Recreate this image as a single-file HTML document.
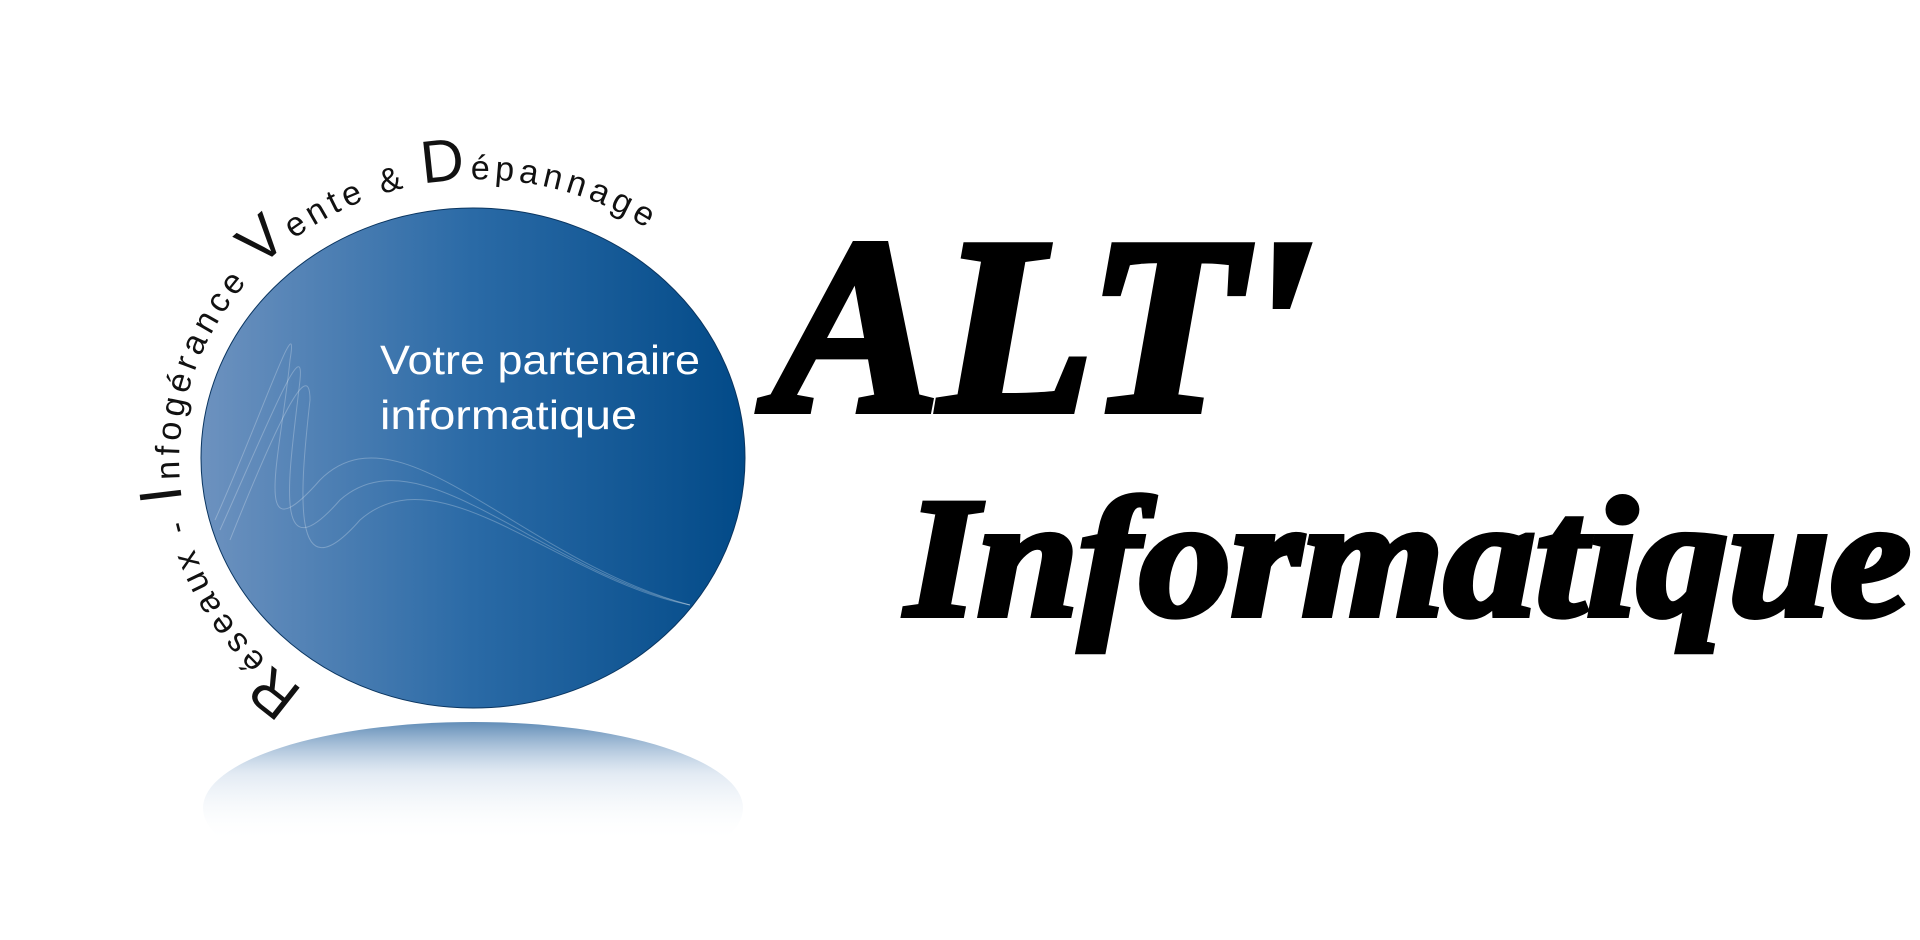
<!DOCTYPE html>
<html><head><meta charset="utf-8"><style>
html,body{margin:0;padding:0;background:#fff;}
svg{display:block;}
</style></head><body>
<svg width="1920" height="940" viewBox="0 0 1920 940" xmlns="http://www.w3.org/2000/svg">
<defs>
<linearGradient id="g" x1="0" y1="0" x2="1" y2="0">
<stop offset="0" stop-color="#6d92bf"/>
<stop offset="0.5" stop-color="#2a6aa6"/>
<stop offset="1" stop-color="#024a88"/>
</linearGradient>
<linearGradient id="r" x1="0" y1="0" x2="0" y2="1">
<stop offset="0" stop-color="#2d679f" stop-opacity="0.75"/>
<stop offset="0.3" stop-color="#9fbad8" stop-opacity="0.3"/>
<stop offset="0.7" stop-color="#ffffff" stop-opacity="0"/>
</linearGradient>
<path id="arc" d="M304,690 A296,279 0 1 1 652,232" fill="none"/>
</defs>
<ellipse cx="473" cy="808" rx="270" ry="86" fill="url(#r)"/>
<ellipse cx="473" cy="458" rx="272" ry="250" fill="url(#g)" stroke="#0a3560" stroke-width="1"/>
<g fill="none" stroke="#ffffff" stroke-opacity="0.25" stroke-width="1">
<path d="M215,520 C260,420 300,300 290,360 C280,460 250,560 320,480 C400,400 520,560 690,605"/>
<path d="M220,530 C265,430 305,330 300,380 C290,470 270,580 340,500 C420,430 540,570 690,605"/>
<path d="M230,540 C270,440 310,350 310,400 C300,490 290,600 360,520 C440,450 560,580 690,605"/>
</g>
<text x="380" y="374" font-family="Liberation Sans, sans-serif" font-size="41" fill="#fff" textLength="320" lengthAdjust="spacingAndGlyphs">Votre partenaire</text>
<text x="380" y="429" font-family="Liberation Sans, sans-serif" font-size="41" fill="#fff" textLength="257" lengthAdjust="spacingAndGlyphs">informatique</text>
<text font-family="Liberation Sans, DejaVu Sans, sans-serif" font-size="34" fill="#111">
<textPath href="#arc" textLength="905" lengthAdjust="spacing"><tspan font-size="60">R</tspan>éseaux - <tspan font-size="60">I</tspan>nfogérance <tspan font-size="60">V</tspan>ente &amp; <tspan font-size="60">D</tspan>épannage</textPath>
</text>
<text x="772" y="410" font-family="Liberation Serif, DejaVu Serif, serif" font-weight="bold" font-style="italic" font-size="250" fill="#000" stroke="#000" stroke-width="8" textLength="540" lengthAdjust="spacingAndGlyphs">ALT'</text>
<text x="906" y="615" font-family="Liberation Serif, DejaVu Serif, serif" font-weight="bold" font-style="italic" font-size="170" fill="#000" stroke="#000" stroke-width="6" textLength="1005" lengthAdjust="spacingAndGlyphs">Informatique</text>
</svg>
</body></html>
